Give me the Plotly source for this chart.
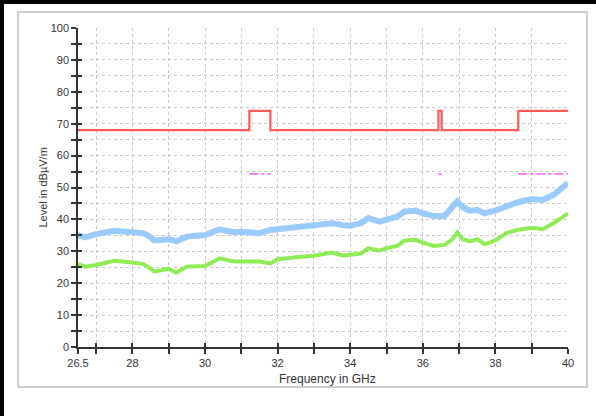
import plotly.graph_objects as go

# ==== Data ====
freq_meas = [26.5, 26.7, 27.0, 27.5, 28.0, 28.3, 28.5, 28.6, 29.0, 29.2, 29.5, 30.0,
             30.4, 30.8, 31.0, 31.5, 31.8, 32.0, 32.5, 33.0, 33.5, 33.8, 34.0, 34.3,
             34.5, 34.8, 35.0, 35.3, 35.5, 35.8, 36.0, 36.3, 36.6, 36.8, 36.95, 37.1,
             37.3, 37.5, 37.7, 38.0, 38.3, 38.6, 39.0, 39.3, 39.6, 39.8, 40.0]
peak_level = [35.1, 34.4, 35.4, 36.4, 36.0, 35.7, 34.4, 33.4, 33.8, 33.1, 34.6, 35.1,
              36.9, 36.0, 36.1, 35.7, 36.7, 36.9, 37.4, 38.1, 38.8, 38.2, 38.0, 38.8,
              40.4, 39.3, 39.9, 40.9, 42.5, 42.7, 41.9, 41.1, 41.1, 43.5, 45.6, 43.8,
              42.7, 43.0, 41.9, 42.8, 44.2, 45.3, 46.4, 46.1, 47.7, 49.5, 51.4]
avg_level = [26.0, 25.2, 25.7, 27.0, 26.5, 26.0, 24.6, 23.6, 24.5, 23.3, 25.2, 25.4,
             27.8, 26.8, 26.8, 26.8, 26.2, 27.5, 28.1, 28.6, 29.6, 28.6, 28.9, 29.3,
             31.0, 30.2, 31.0, 31.7, 33.4, 33.6, 32.7, 31.7, 32.0, 33.6, 35.9, 33.8,
             33.1, 33.8, 32.2, 33.4, 35.7, 36.7, 37.4, 36.9, 38.8, 40.4, 41.9]

limit_freq = [26.5, 31.22, 31.8, 36.43, 36.52, 38.63, 40.0]
limit_level = [68, 74, 68, 74, 68, 74, 74]

avg_limit_freq = [31.22, 31.8, None, 36.43, 36.52, None, 38.63, 40.0]
avg_limit_level = [54.2, 54.2, None, 54.2, 54.2, None, 54.2, 54.2]

x_tickvals = [26.5, 28, 30, 32, 34, 36, 38, 40]
x_ticktext = ["26.5", "28", "30", "32", "34", "36", "38", "40"]
y_tickvals = [0, 10, 20, 30, 40, 50, 60, 70, 80, 90, 100]

# ==== Figure ====
fig = go.Figure()

fig.add_trace(go.Scatter(x=freq_meas, y=peak_level, mode="lines",
                         line=dict(color="#99cbff", width=6), name="Peak"))
fig.add_trace(go.Scatter(x=freq_meas, y=avg_level, mode="lines",
                         line=dict(color="#8fec55", width=4), name="Average"))
fig.add_trace(go.Scatter(x=limit_freq, y=limit_level, mode="lines", line_shape="hv",
                         line=dict(color="#ff5a5a", width=2.2), name="Limit"))
fig.add_trace(go.Scatter(x=avg_limit_freq, y=avg_limit_level, mode="lines",
                         line=dict(color="#ff55ff", width=1.5, dash="dashdot"),
                         name="Avg limit", connectgaps=False))

# invisible trace on the overlay axes so the inside ticks get drawn
fig.add_trace(go.Scatter(x=[26.5], y=[0], xaxis="x2", yaxis="y2", mode="markers",
                         marker=dict(opacity=0), showlegend=False, hoverinfo="skip"))

tick_font = dict(family="Liberation Sans, Arial, sans-serif", size=11, color="#333")
grid_col = "#c8c8c8"

fig.update_layout(
    width=596, height=416,
    margin=dict(l=78, r=28, t=28, b=69),
    paper_bgcolor="white", plot_bgcolor="white",
    showlegend=False,
    xaxis=dict(
        range=[26.5, 40], tickvals=x_tickvals, ticktext=x_ticktext,
        ticks="outside", ticklen=5, tickwidth=1.5, tickcolor="#333",
        showline=True, linecolor="#333", linewidth=1.5,
        showgrid=True, gridcolor=grid_col, griddash="dot", gridwidth=1,
        minor=dict(tick0=27, dtick=1, ticks="outside", ticklen=5, tickwidth=1.5,
                   tickcolor="#333", showgrid=True, gridcolor=grid_col, griddash="dot"),
        zeroline=False, tickfont=tick_font,
    ),
    yaxis=dict(
        range=[0, 100], tickvals=y_tickvals,
        ticks="outside", ticklen=5, tickwidth=1.5, tickcolor="#333",
        showline=True, linecolor="#333", linewidth=1.5,
        showgrid=True, gridcolor=grid_col, griddash="dot", gridwidth=1,
        minor=dict(dtick=5, ticks="outside", ticklen=5, tickwidth=1.5,
                   tickcolor="#333", showgrid=True, gridcolor=grid_col, griddash="dot"),
        zeroline=False, tickfont=tick_font,
    ),
    xaxis2=dict(range=[26.5, 40], overlaying="x", anchor="y", showgrid=False,
                tickvals=x_tickvals, showticklabels=False, ticks="inside", ticklen=4,
                tickwidth=1.5, tickcolor="#333", zeroline=False,
                minor=dict(tick0=27, dtick=1, ticks="inside", ticklen=4,
                           tickwidth=1.5, tickcolor="#333")),
    yaxis2=dict(range=[0, 100], overlaying="y", anchor="x", side="left", showgrid=False,
                dtick=5, showticklabels=False, ticks="inside", ticklen=4,
                tickwidth=1.5, tickcolor="#333", zeroline=False),
)

# axis titles
fig.add_annotation(text="Frequency in GHz", xref="paper", yref="paper",
                   x=(327 - 78) / 490, y=(347 - 379) / 319, showarrow=False,
                   xanchor="center", yanchor="middle",
                   font=dict(family="Liberation Sans, Arial, sans-serif", size=12, color="#333"))
fig.add_annotation(text="Level in dBµV/m", xref="paper", yref="paper",
                   x=(42 - 78) / 490, y=0.5, showarrow=False, textangle=-90,
                   xanchor="center", yanchor="middle",
                   font=dict(family="Liberation Sans, Arial, sans-serif", size=11, color="#333"))

# outer gray frame and dark page border
def px(xp):
    return (xp - 78) / 490

def py(yp):
    return (347 - yp) / 319

fig.add_shape(type="rect", xref="paper", yref="paper",
              x0=px(18), x1=px(587), y0=py(387), y1=py(12),
              line=dict(color="#bdbdbd", width=1.5), layer="below")
fig.add_shape(type="line", xref="paper", yref="paper",
              x0=px(2), x1=px(2), y0=py(416), y1=py(0),
              line=dict(color="black", width=4))
fig.add_shape(type="line", xref="paper", yref="paper",
              x0=px(0), x1=px(596), y0=py(2), y1=py(2),
              line=dict(color="black", width=4))

# drop the default page margin so the figure sits at the window origin
fig.write_html("out.html", config={"displayModeBar": False},
               post_script="document.body.style.margin='0';")
